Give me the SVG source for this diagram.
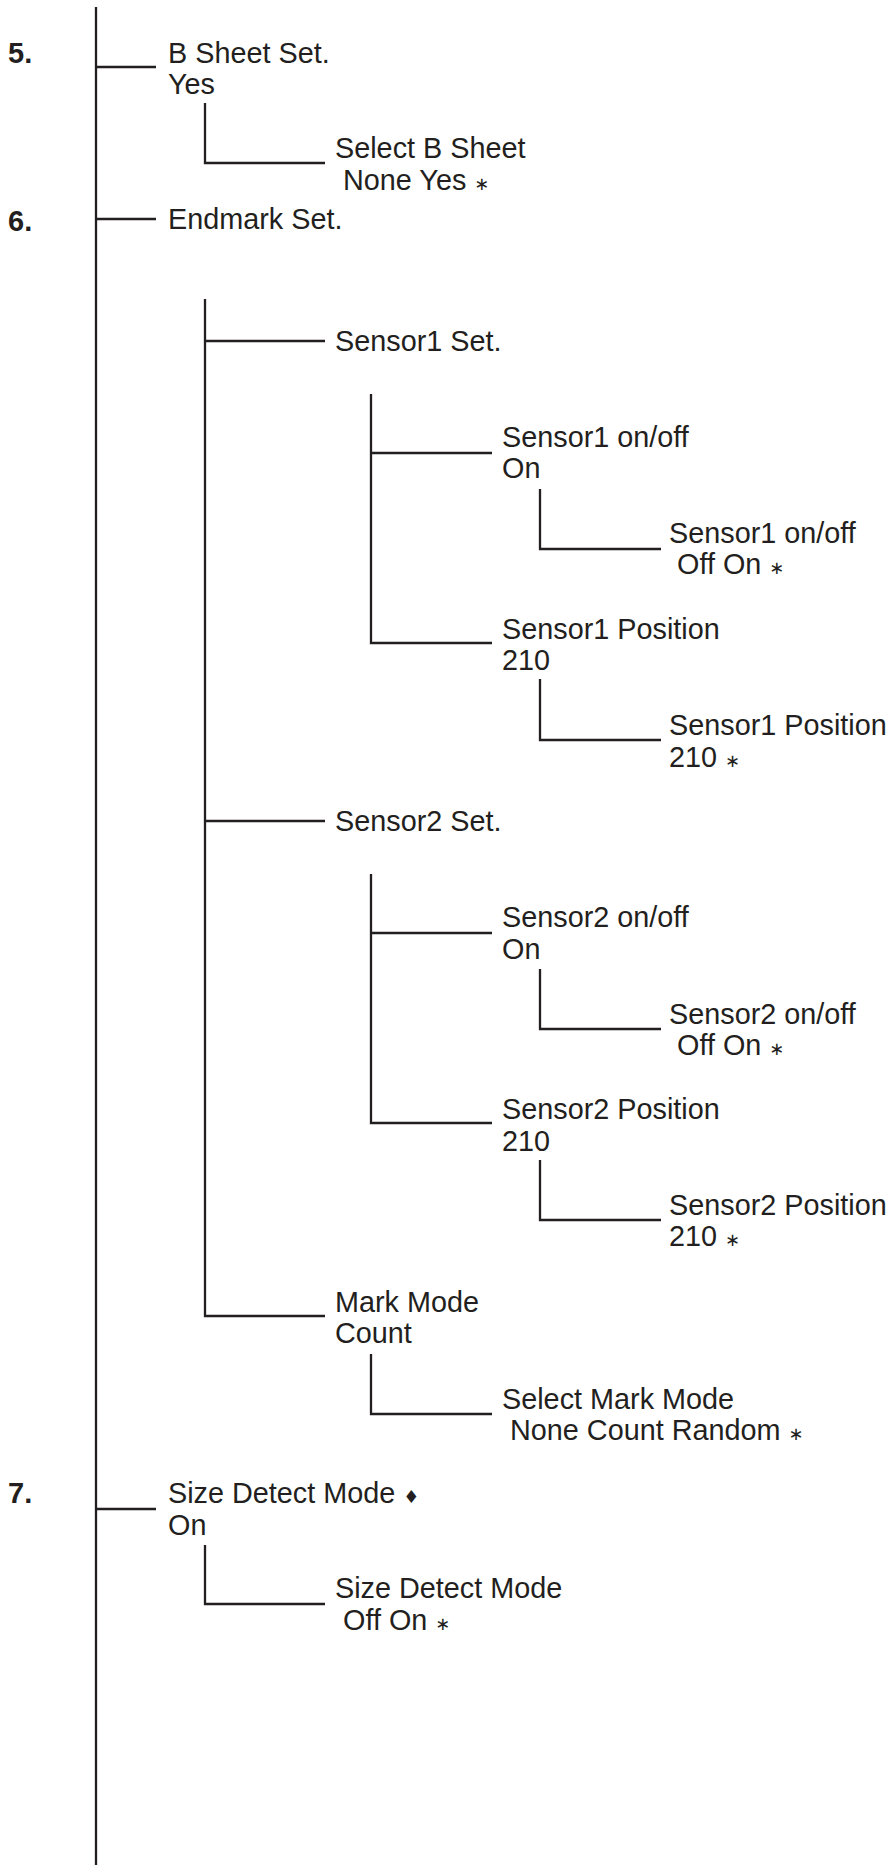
<svg xmlns="http://www.w3.org/2000/svg" width="890" height="1865" viewBox="0 0 890 1865">
<style>
.t{font-family:"Liberation Sans",Arial,"DejaVu Sans",sans-serif;font-size:28.8px;fill:#231f20}
.n{font-family:"Liberation Sans",Arial,sans-serif;font-size:29px;font-weight:bold;fill:#231f20}
.s{font-family:"DejaVu Sans",sans-serif;font-size:18px}
.l{stroke:#231f20;stroke-width:2.3;fill:none}
</style>
<rect width="890" height="1865" fill="#ffffff"/>
<g id="connectors" class="l">
<line x1="96" y1="7" x2="96" y2="1865"/>
<line x1="96" y1="67" x2="156" y2="67"/>
<line x1="96" y1="219" x2="156" y2="219"/>
<line x1="96" y1="1509" x2="156" y2="1509"/>
<path d="M205 103V163H325"/>
<path d="M205 299V1316H325"/>
<line x1="205" y1="341" x2="325" y2="341"/>
<line x1="205" y1="821" x2="325" y2="821"/>
<path d="M371 394V643H492"/>
<line x1="371" y1="453" x2="492" y2="453"/>
<path d="M371 874V1123H492"/>
<line x1="371" y1="933" x2="492" y2="933"/>
<path d="M371 1354V1414H492"/>
<path d="M540 489V549H661"/>
<path d="M540 679V740H661"/>
<path d="M540 969V1029H661"/>
<path d="M540 1160V1220H661"/>
<path d="M205 1545V1604H325"/>
</g>
<g id="n5"><text class="n" x="8" y="63">5.</text></g>
<g id="bsheet"><text class="t" x="168" y="63">B Sheet Set.</text><text class="t" x="168" y="94">Yes</text></g>
<g id="selectb"><text class="t" x="335" y="158">Select B Sheet</text><text class="t" x="343" y="190">None Yes <tspan class="s">∗</tspan></text></g>
<g id="n6"><text class="n" x="8" y="231">6.</text></g>
<g id="endmark"><text class="t" x="168" y="229">Endmark Set.</text></g>
<g id="s1set"><text class="t" x="335" y="351">Sensor1 Set.</text></g>
<g id="s1onoff"><text class="t" x="502" y="447">Sensor1 on/off</text><text class="t" x="502" y="478">On</text></g>
<g id="s1onoffsel"><text class="t" x="669" y="543">Sensor1 on/off</text><text class="t" x="677" y="574">Off On <tspan class="s">∗</tspan></text></g>
<g id="s1pos"><text class="t" x="502" y="639">Sensor1 Position</text><text class="t" x="502" y="670">210</text></g>
<g id="s1possel"><text class="t" x="669" y="735">Sensor1 Position</text><text class="t" x="669" y="767">210 <tspan class="s">∗</tspan></text></g>
<g id="s2set"><text class="t" x="335" y="831">Sensor2 Set.</text></g>
<g id="s2onoff"><text class="t" x="502" y="927">Sensor2 on/off</text><text class="t" x="502" y="959">On</text></g>
<g id="s2onoffsel"><text class="t" x="669" y="1024">Sensor2 on/off</text><text class="t" x="677" y="1055">Off On <tspan class="s">∗</tspan></text></g>
<g id="s2pos"><text class="t" x="502" y="1119">Sensor2 Position</text><text class="t" x="502" y="1151">210</text></g>
<g id="s2possel"><text class="t" x="669" y="1215">Sensor2 Position</text><text class="t" x="669" y="1246">210 <tspan class="s">∗</tspan></text></g>
<g id="markmode"><text class="t" x="335" y="1312">Mark Mode</text><text class="t" x="335" y="1343">Count</text></g>
<g id="markmodesel"><text class="t" x="502" y="1409">Select Mark Mode</text><text class="t" x="510" y="1440">None Count Random <tspan class="s">∗</tspan></text></g>
<g id="n7"><text class="n" x="8" y="1503">7.</text></g>
<g id="sizedetect"><text class="t" x="168" y="1503">Size Detect Mode <tspan class="s">♦</tspan></text><text class="t" x="168" y="1535">On</text></g>
<g id="sizedetectsel"><text class="t" x="335" y="1598">Size Detect Mode</text><text class="t" x="343" y="1630">Off On <tspan class="s">∗</tspan></text></g>
</svg>
